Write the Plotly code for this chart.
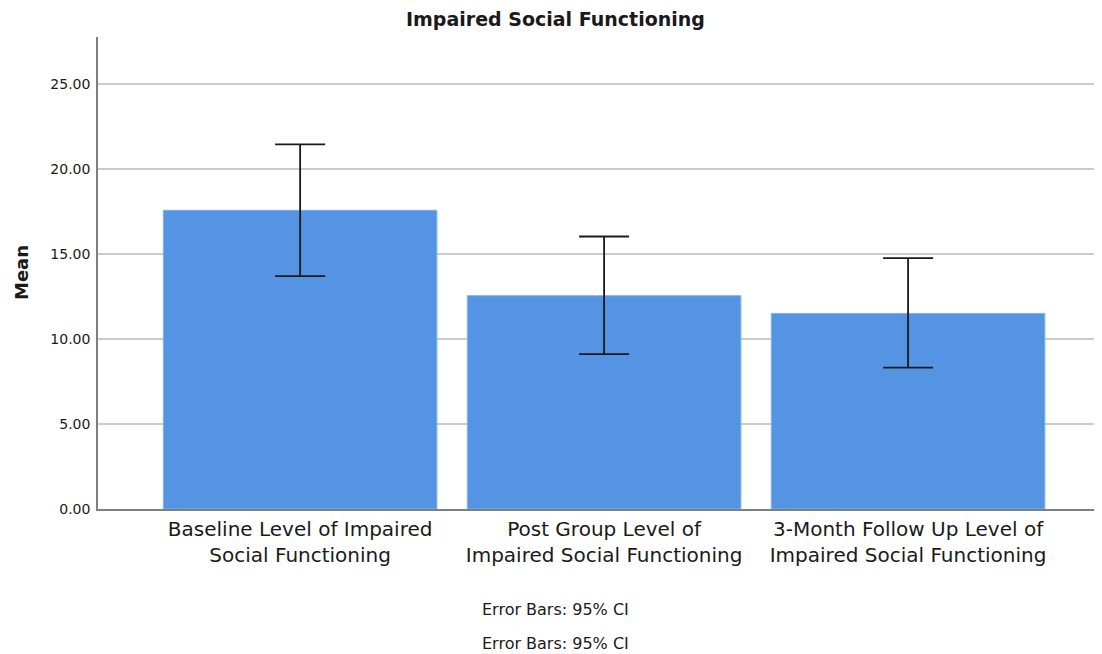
import plotly.graph_objects as go

categories = [
    "Baseline Level of Impaired<br>Social Functioning",
    "Post Group Level of<br>Impaired Social Functioning",
    "3-Month Follow Up Level of<br>Impaired Social Functioning",
]
means = [17.56, 12.54, 11.50]
ci_upper = [21.44, 16.02, 14.75]
ci_lower = [13.69, 9.10, 8.31]
y_ticks = [0, 5, 10, 15, 20, 25]
y_tick_labels = ["0.00", "5.00", "10.00", "15.00", "20.00", "25.00"]

FONT = "DejaVu Sans"
TXT = "#1a1a1a"

err_plus = [u - m for u, m in zip(ci_upper, means)]
err_minus = [m - l for m, l in zip(means, ci_lower)]

W, H = 1094, 646
ML, MT, MB = 90, 29, 145
plot_w = W - ML

fig = go.Figure()
fig.add_trace(go.Bar(
    x=categories,
    y=means,
    width=0.9,
    marker=dict(color="#5594E3", line=dict(color="#7FB0EE", width=1)),
    error_y=dict(
        type="data",
        symmetric=False,
        array=err_plus,
        arrayminus=err_minus,
        color="#1a1a1a",
        thickness=1.8,
        width=25,
    ),
    hoverinfo="skip",
))

title_x = (547 - ML) / plot_w

fig.update_layout(
    width=W,
    height=H,
    margin=dict(l=ML, r=0, t=MT, b=MB, pad=0),
    paper_bgcolor="white",
    plot_bgcolor="white",
    showlegend=False,
    font=dict(family=FONT, color=TXT),
    xaxis=dict(
        range=[-0.665, 2.638],
        showline=True,
        linecolor="#7f7f7f",
        linewidth=1.5,
        showgrid=False,
        ticks="",
        ticklabelstandoff=1,
        tickfont=dict(size=20, family=FONT, color=TXT),
    ),
    yaxis=dict(
        range=[0, 27.75],
        tickvals=y_ticks,
        ticktext=y_tick_labels,
        showline=True,
        linecolor="#7f7f7f",
        linewidth=1.5,
        showgrid=True,
        gridcolor="#cccccc",
        gridwidth=1.5,
        zeroline=False,
        ticks="",
        ticklabelstandoff=3,
        tickfont=dict(size=14, family=FONT, color=TXT),
    ),
    annotations=[
        dict(text="<b>Impaired Social Functioning</b>", xref="paper", yref="paper",
             x=title_x, y=1, yshift=18, xanchor="center", yanchor="middle",
             showarrow=False, font=dict(size=19, family=FONT, color=TXT)),
        dict(text="<b>Mean</b>", xref="paper", yref="paper", textangle=-90,
             x=(13 - ML) / plot_w, y=0.5, xanchor="center", yanchor="middle",
             showarrow=False, font=dict(size=18, family=FONT, color=TXT)),
        dict(text="Error Bars: 95% CI", xref="paper", yref="paper",
             x=title_x, y=0, yshift=-100, xanchor="center", yanchor="middle",
             showarrow=False, font=dict(size=16, family=FONT, color=TXT)),
        dict(text="Error Bars: 95% CI", xref="paper", yref="paper",
             x=title_x, y=0, yshift=-134, xanchor="center", yanchor="middle",
             showarrow=False, font=dict(size=16, family=FONT, color=TXT)),
    ],
)

fig.write_html("out.html")
